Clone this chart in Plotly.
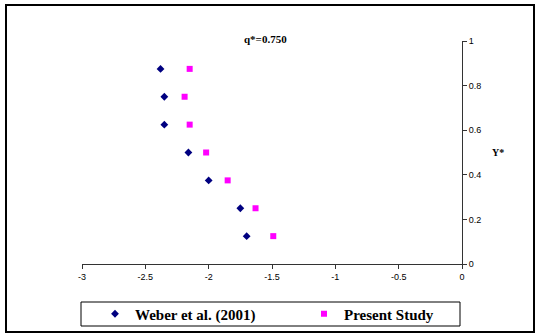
import plotly.graph_objects as go

y_star = [0.875, 0.75, 0.625, 0.5, 0.375, 0.25, 0.125]
weber_x = [-2.38, -2.35, -2.35, -2.16, -2.00, -1.75, -1.70]
present_x = [-2.15, -2.19, -2.15, -2.02, -1.85, -1.63, -1.49]

x_ticks = [-3, -2.5, -2, -1.5, -1, -0.5, 0]
x_tick_labels = ["-3", "-2.5", "-2", "-1.5", "-1", "-0.5", "0"]
y_ticks = [0, 0.2, 0.4, 0.6, 0.8, 1]
y_tick_labels = ["0", "0.2", "0.4", "0.6", "0.8", "1"]

fig = go.Figure()
fig.add_trace(go.Scatter(x=weber_x, y=y_star, mode="markers", name="<b>Weber et al. (2001)</b>",
                         legend="legend",
                         marker=dict(symbol="diamond", size=6, color="#000080")))
fig.add_trace(go.Scatter(x=present_x, y=y_star, mode="markers", name="<b>Present Study</b>",
                         legend="legend2",
                         marker=dict(symbol="square", size=6, color="#FF00FF")))

W, H = 539, 336
L, R, T, B = 82, 462, 41, 264
pw, ph = R - L, B - T
def px(x): return (x - L) / pw
def py(y): return (B - y) / ph

leg_common = dict(orientation="h", yanchor="middle", xanchor="left",
                  font=dict(family="Liberation Serif", size=15, color="black"),
                  bgcolor="rgba(0,0,0,0)", borderwidth=0, itemwidth=30)

fig.update_layout(
    width=W, height=H,
    margin=dict(l=L, r=W - R, t=T, b=H - B, autoexpand=False),
    paper_bgcolor="white", plot_bgcolor="white",
    showlegend=True,
    legend=dict(x=px(95), y=py(314), **leg_common),
    legend2=dict(x=px(304), y=py(314), **leg_common),
    xaxis=dict(range=[-3, 0], tickvals=x_ticks, ticktext=x_tick_labels,
               showgrid=False, zeroline=False, showline=True, linecolor="#333", linewidth=1,
               ticks="outside", ticklen=4, tickcolor="#333",
               tickfont=dict(family="Liberation Sans", size=9, color="black")),
    yaxis=dict(range=[0, 1], side="right", tickvals=y_ticks, ticktext=y_tick_labels,
               showgrid=False, zeroline=False, showline=True, linecolor="#333", linewidth=1,
               ticks="outside", ticklen=4, tickcolor="#333",
               tickfont=dict(family="Liberation Sans", size=9, color="black")),
    shapes=[
        dict(type="rect", xref="paper", yref="paper", x0=px(6), x1=px(534), y0=py(5), y1=py(332),
             line=dict(color="black", width=2), fillcolor="rgba(0,0,0,0)"),
        dict(type="rect", xref="paper", yref="paper", x0=px(81), x1=px(460), y0=py(302), y1=py(326),
             line=dict(color="black", width=1), fillcolor="rgba(0,0,0,0)"),
    ],
    annotations=[
        dict(text="<b>q*=0.750</b>", xref="paper", yref="paper", x=px(265), y=py(31),
             showarrow=False, font=dict(family="Liberation Serif", size=11, color="black")),
        dict(text="<b>Y*</b>", xref="paper", yref="paper", x=px(506), y=py(152),
             showarrow=False, font=dict(family="Liberation Serif", size=10, color="black")),
    ],
)
fig.write_html("out.html")
